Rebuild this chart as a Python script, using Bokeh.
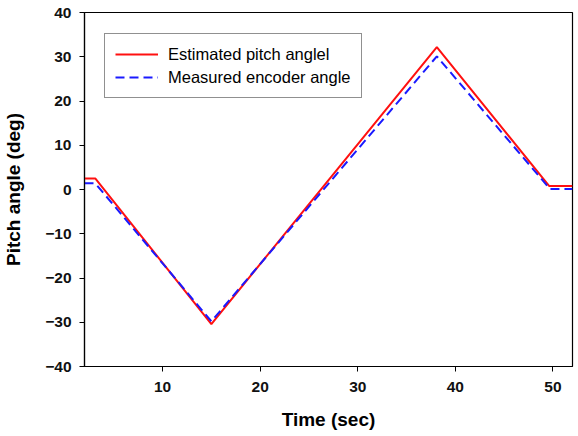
from bokeh.plotting import figure
from bokeh.models import Legend, LegendItem, FixedTicker, Range1d
from bokeh.embed import file_html
from bokeh.resources import INLINE

# Data
est_time = [2.0, 3.1, 15.0, 38.1, 49.6, 52.0]
est_angle = [2.5, 2.5, -30.4, 32.2, 0.8, 0.8]
meas_time = [2.0, 3.1, 15.0, 38.1, 49.7, 52.0]
meas_angle = [1.4, 1.4, -29.8, 30.1, 0.1, 0.1]

x_ticks = [10, 20, 30, 40, 50]
y_ticks = [-40, -30, -20, -10, 0, 10, 20, 30, 40]

FONT = "Liberation Sans"

p = figure(width=576, height=432, output_backend="svg", toolbar_location=None,
           x_range=Range1d(2, 52), y_range=Range1d(-40, 40),
           min_border_left=80, min_border_right=4, min_border_top=12, min_border_bottom=10)

p.xgrid.visible = False
p.ygrid.visible = False
p.outline_line_color = "black"
p.outline_line_width = 1.2
p.background_fill_color = "white"
p.border_fill_color = "white"

r1 = p.line(est_time, est_angle, line_color="#ff1010", line_width=2)
r2 = p.line(meas_time, meas_angle, line_color="#1a1aff", line_width=2, line_dash="9 5")

for ax, ticks in ((p.xaxis[0], x_ticks), (p.yaxis[0], y_ticks)):
    ax.ticker = FixedTicker(ticks=ticks)
    ax.minor_tick_line_color = None
    ax.major_tick_in = 0
    ax.major_tick_out = 5
    ax.major_tick_line_color = "black"
    ax.axis_line_color = "black"
    ax.axis_line_width = 1.2
    ax.major_label_text_font = FONT
    ax.major_label_text_font_style = "bold"
    ax.major_label_text_font_size = "15.5px"
    ax.major_label_text_color = "#111111"
    ax.axis_label_text_font = FONT
    ax.axis_label_text_font_style = "bold"
    ax.axis_label_text_font_size = "19px"
    ax.axis_label_text_color = "black"

p.xaxis.axis_label = "Time (sec)"
p.yaxis.axis_label = "Pitch angle (deg)"
p.xaxis.major_label_standoff = 10
p.yaxis.major_label_standoff = 8
p.xaxis.axis_label_standoff = 14
p.yaxis.axis_label_standoff = 18

legend = Legend(items=[LegendItem(label="Estimated pitch anglel", renderers=[r1]),
                       LegendItem(label="Measured encoder angle", renderers=[r2])],
                location=(20, 268))
legend.label_text_font = FONT
legend.label_text_font_size = "16.5px"
legend.label_text_color = "black"
legend.glyph_width = 43
legend.glyph_height = 20
legend.label_height = 20
legend.spacing = 3
legend.padding = 10
legend.label_standoff = 10
legend.margin = 0
legend.border_line_color = "#222222"
legend.border_line_width = 1.4
legend.background_fill_alpha = 1
p.add_layout(legend, "center")

open("out.html", "w").write(file_html(p, INLINE))
